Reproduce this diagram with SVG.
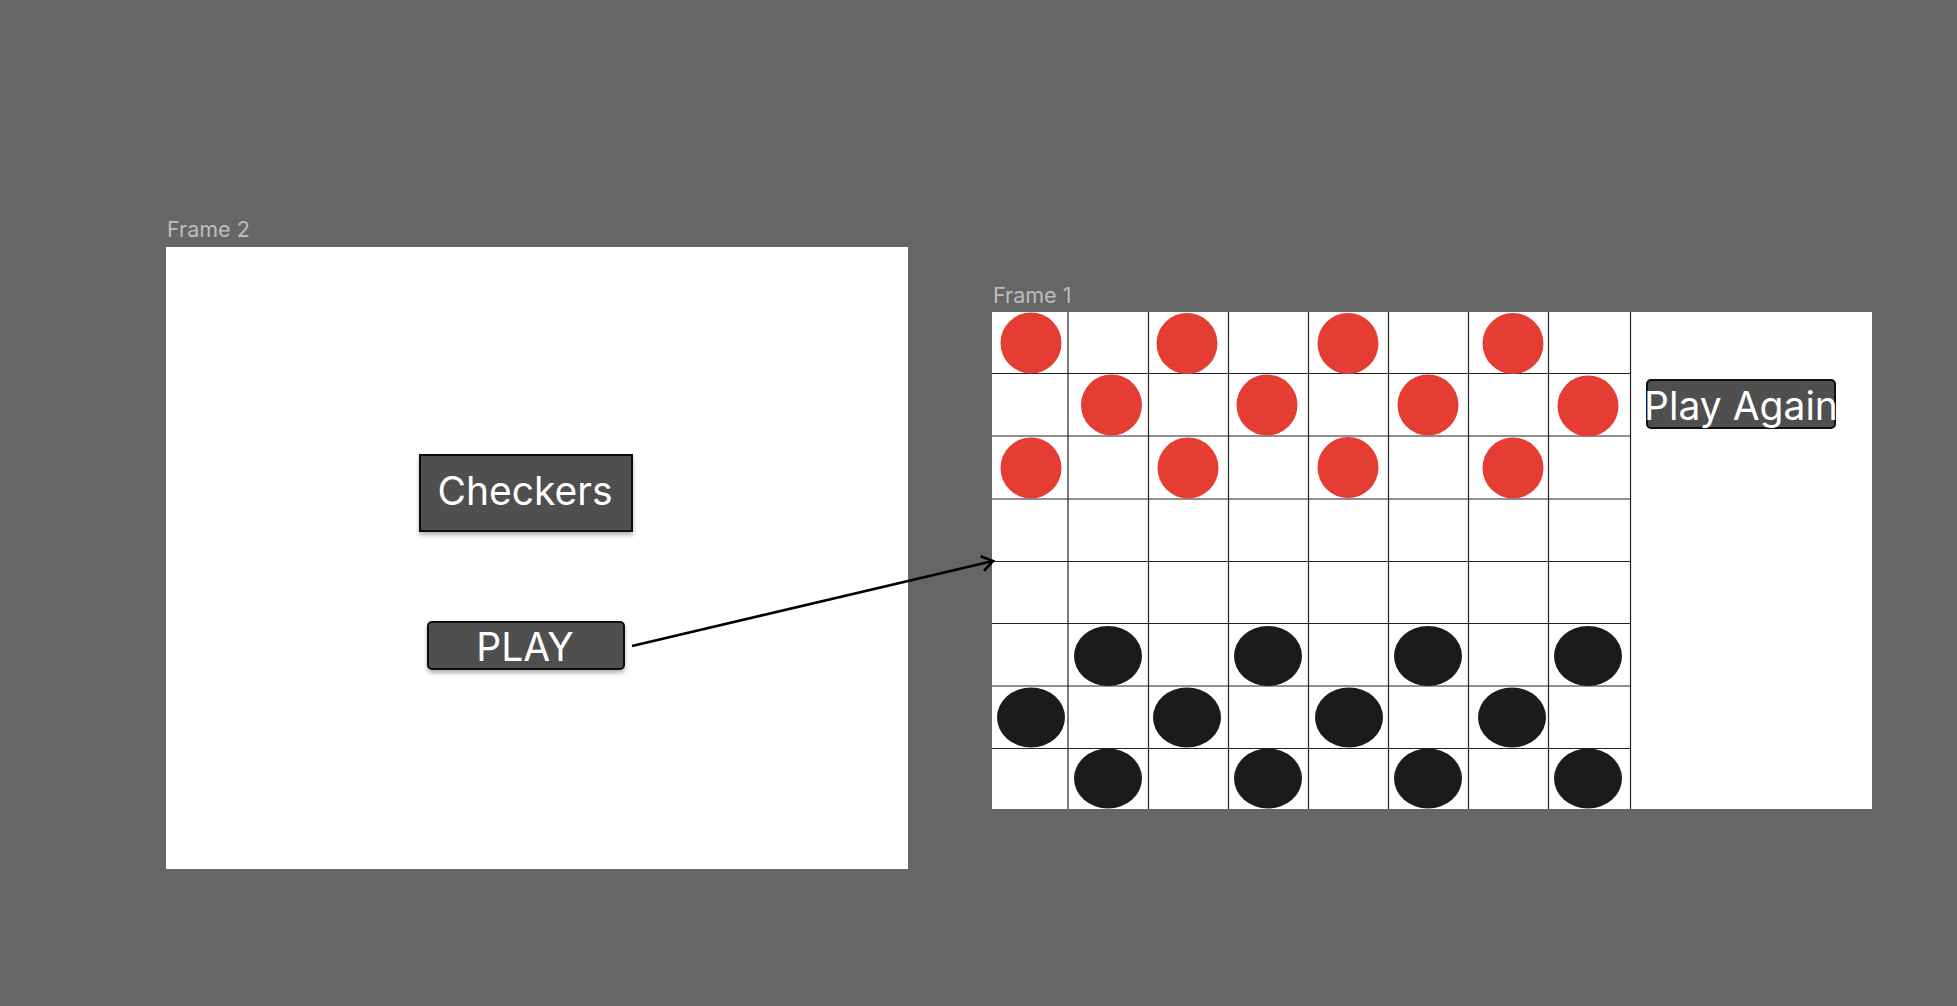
<svg xmlns="http://www.w3.org/2000/svg" width="1957" height="1006" viewBox="0 0 1957 1006">
<style>
.lbl{font-family:Inter,"Noto Sans","Liberation Sans",sans-serif;font-size:21.5px;fill:#bdbdbd}
.btxt{font-family:Inter,"Noto Sans","Liberation Sans",sans-serif;font-size:39px;fill:#ffffff;text-anchor:middle}
.btn{fill:#4f4f4f;stroke:#111;stroke-width:2}
.grid line{stroke:#222;stroke-width:1.2}
.red{fill:#e53d33}
.blk{fill:#1b1b1b}
.conn{fill:none;stroke:#000;stroke-width:2.6}
</style>
<defs>
<filter id="sh" x="-10%" y="-20%" width="120%" height="160%">
<feDropShadow dx="0" dy="3" stdDeviation="2" flood-color="#000" flood-opacity="0.3"/>
</filter>
<marker id="arr" markerWidth="18" markerHeight="18" refX="13" refY="9" orient="auto" markerUnits="userSpaceOnUse">
<path d="M2,1.5 L13,9 L2,16.5" fill="none" stroke="#000" stroke-width="2.6"/>
</marker>
</defs>
<rect x="0" y="0" width="1957" height="1006" fill="#666666"/>

<g id="frame2">
<text class="lbl" x="167" y="237">Frame 2</text>
<rect x="166" y="247" width="742" height="622" fill="#ffffff"/>
</g>

<g id="checkers-title">
<rect class="btn" x="420" y="455" width="212" height="76" filter="url(#sh)"/>
<text class="btxt" x="525" y="505">Checkers</text>
</g>

<g id="play-button">
<rect class="btn" x="428" y="622" width="196" height="47" rx="4" filter="url(#sh)"/>
<text class="btxt" x="525" y="661">PLAY</text>
</g>

<g id="frame1">
<text class="lbl" x="993" y="303">Frame 1</text>
<rect x="992" y="312" width="880" height="497" fill="#ffffff"/>
</g>

<g id="board">
<g class="grid">
<line x1="1068" y1="312" x2="1068" y2="809"/>
<line x1="1148.5" y1="312" x2="1148.5" y2="809"/>
<line x1="1228.5" y1="312" x2="1228.5" y2="809"/>
<line x1="1308.5" y1="312" x2="1308.5" y2="809"/>
<line x1="1388.5" y1="312" x2="1388.5" y2="809"/>
<line x1="1468.5" y1="312" x2="1468.5" y2="809"/>
<line x1="1548.5" y1="312" x2="1548.5" y2="809"/>
<line x1="1630.5" y1="312" x2="1630.5" y2="809"/>
<line x1="992" y1="373.5" x2="1630.5" y2="373.5"/>
<line x1="992" y1="436" x2="1630.5" y2="436"/>
<line x1="992" y1="499" x2="1630.5" y2="499"/>
<line x1="992" y1="561.5" x2="1630.5" y2="561.5"/>
<line x1="992" y1="623.5" x2="1630.5" y2="623.5"/>
<line x1="992" y1="686" x2="1630.5" y2="686"/>
<line x1="992" y1="748.5" x2="1630.5" y2="748.5"/>
</g>
<g id="red-pieces">
<circle class="red" cx="1031" cy="343" r="30.5"/>
<circle class="red" cx="1187" cy="343.5" r="30.5"/>
<circle class="red" cx="1348" cy="343.5" r="30.5"/>
<circle class="red" cx="1513" cy="343.5" r="30.5"/>
<circle class="red" cx="1111.5" cy="405" r="30.5"/>
<circle class="red" cx="1267" cy="405" r="30.5"/>
<circle class="red" cx="1428" cy="405" r="30.5"/>
<circle class="red" cx="1588" cy="406" r="30.5"/>
<circle class="red" cx="1031" cy="468" r="30.5"/>
<circle class="red" cx="1188" cy="468" r="30.5"/>
<circle class="red" cx="1348" cy="467.5" r="30.5"/>
<circle class="red" cx="1513" cy="468" r="30.5"/>
</g>
<g id="black-pieces">
<ellipse class="blk" cx="1108" cy="656" rx="34" ry="30"/>
<ellipse class="blk" cx="1268" cy="656" rx="34" ry="30"/>
<ellipse class="blk" cx="1428" cy="656" rx="34" ry="30"/>
<ellipse class="blk" cx="1588" cy="656" rx="34" ry="30"/>
<ellipse class="blk" cx="1031" cy="717.5" rx="34" ry="30"/>
<ellipse class="blk" cx="1187" cy="717.5" rx="34" ry="30"/>
<ellipse class="blk" cx="1349" cy="717.5" rx="34" ry="30"/>
<ellipse class="blk" cx="1512" cy="717.5" rx="34" ry="30"/>
<ellipse class="blk" cx="1108" cy="778.5" rx="34" ry="30"/>
<ellipse class="blk" cx="1268" cy="778.5" rx="34" ry="30"/>
<ellipse class="blk" cx="1428" cy="778.5" rx="34" ry="30"/>
<ellipse class="blk" cx="1588" cy="778.5" rx="34" ry="30"/>
</g>
</g>

<g id="play-again-button">
<rect class="btn" x="1647" y="380" width="188" height="48" rx="4" stroke-width="1.6"/>
<text class="btxt" x="1741" y="420">Play Again</text>
</g>

<g id="connectors">
<line class="conn" x1="632" y1="646" x2="993" y2="561" marker-end="url(#arr)"/>
</g>
</svg>
